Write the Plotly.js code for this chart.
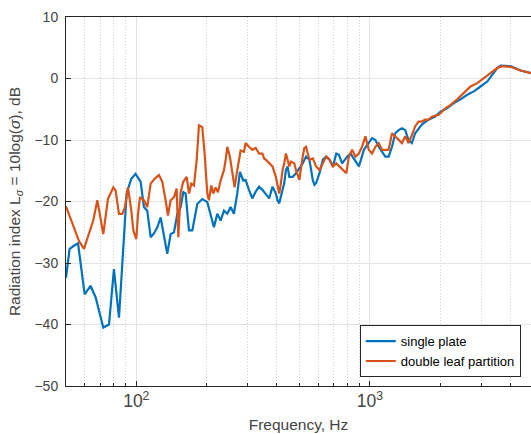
<!DOCTYPE html>
<html><head><meta charset="utf-8">
<script src="https://cdn.plot.ly/plotly-3.0.1.min.js"></script>
<style>html,body{margin:0;padding:0;background:#fff;}#chart{width:531px;height:434px;}</style>
</head><body><div id="chart"></div>
<script>
// single plate
var freqSingle = [50, 51.8, 54.1, 56.3, 60.1, 63.7, 67.0, 72.2, 76.4, 80.2, 84.3, 87.1, 90.9, 95.2, 99.3, 104.4, 107.8, 111.4, 115.2, 119, 123, 127.1, 131.3, 135.7, 140.3, 145, 149.8, 154.8, 158.9, 162.6, 168.1, 173.7, 182.4, 191.7, 201.4, 215, 222.2, 229.6, 237.3, 245.2, 253.4, 261.8, 270.6, 277.8, 287.1,
  293.8, 303.7, 313.9, 324.5, 335.4, 346.7, 358.4, 370.5, 382.9, 395.8, 402.4, 409.2, 416, 430, 437.1, 444.4, 451.9, 467.1, 482.8, 499, 515.8, 533.2, 551.1, 569.7, 579.2, 588.8, 608.6, 629.1, 650.3, 672.2, 694.8, 718.2,
  737, 761, 800.5, 826.8, 897.7, 943, 989, 1022, 1056, 1091, 1127, 1165, 1204, 1244, 1285, 1328, 1372, 1418, 1464, 1513, 1563, 1615, 1669, 1782, 1903,
  2008, 2145, 2289, 2445, 2612, 2788, 2978, 3181, 3342, 3511, 3630, 4004, 4417, 5000];
var levelSingle = [-32.4, -27.7, -27.2, -26.8, -35.1, -33.7, -35.6, -40.5, -40, -31, -38.9, -30.7, -18.7, -16.3, -15.5, -16.8, -20.9, -21.5, -25.8, -25.2, -24.2, -22.6, -25.3, -28.5, -25.3, -25, -22, -20.9, -18.5, -18.7, -24.7, -24.7, -20.4, -19.6, -20.1, -24.2, -22, -23.1, -21.5, -22, -20.9, -22, -18.7, -15.2, -16.6,
  -16.5, -18.1, -19.5, -18.4, -17.6, -18.1, -18.9, -19.5, -17.6, -18.7, -19.8, -20.3, -19.2, -17.0, -14.9, -14.3, -16.0, -16.0, -15.4, -14.6, -13.8, -12.7, -13.2, -16.5, -17.3, -17.0, -15.4, -13.2, -12.7, -13.2, -14.3, -12.2,
  -12.4, -13.8, -12.7, -12.2, -14.3, -11.6, -10.5, -9.7, -10.0, -11.1, -11.9, -12.7, -12.7, -11.1, -8.9, -8.4, -8.1, -8.4, -10.0, -10.5, -8.9, -8.1, -7.5, -6.7, -6.2,
  -5.4, -4.8, -4.0, -3.4, -2.65, -2.1, -1.3, -0.5, 0.6, 1.7, 2.1, 2.0, 1.3, 0.8];

// double leaf partition
var freqDouble = [50, 54.1, 56.8, 59.7, 62.7, 65.4, 68.1, 70.4, 72.2, 75.6, 79.7, 81.5, 84.3, 87.1, 89.4, 92.1, 95.2, 97.1, 100, 101.7, 103.7, 107.8, 111.4, 115.2, 119.8, 125, 129.2, 133.5, 136.6, 140.3, 145, 148.8, 151.3, 154.8, 158.9, 164.3, 168.1, 172, 176.5, 181.3, 185.5, 191.7, 196.1, 201.4, 204.6, 209.4, 213.6, 218.6, 223.6, 229.6, 237.3, 241.2, 245.2, 251.8, 257.6, 263.6, 270.6, 279.7, 289,
  293.8, 303.7, 313.9, 324.5, 335.4, 346.7, 352.5, 358.4, 370.5, 382.9, 395.8, 402.4, 409.2, 416, 423, 430, 437.1, 444.4, 451.9, 459.4, 474.9, 482.8, 499, 515.8, 524.4, 533.2, 542.1, 551.1, 569.7, 588.8, 608.6, 629.1, 650.3, 672.2, 694.8, 718.2, 742.3, 767.3, 793.2,
  813, 840, 868, 897, 926, 957, 989, 1022, 1056, 1091, 1127, 1165, 1204, 1244, 1285, 1328, 1372, 1418, 1464, 1513, 1563, 1615, 1669, 1725, 1782, 1842, 1903,
  1974, 2110, 2216, 2366, 2526, 2698, 2883, 3076, 3289, 3511, 3689, 4004, 4417, 5000];
var levelDouble = [-20.8, -24.2, -26.4, -27.7, -25.3, -23.1, -19.8, -22.6, -25.3, -19.6, -17.7, -18.2, -22, -22, -20.9, -17.7, -21.5, -24.7, -26.1, -22, -19.3, -19.8, -20.9, -17.1, -16.3, -15.7, -16.8, -19.8, -22.3, -19.8, -19.3, -17.9, -25.8, -18.5, -16.8, -16.0, -18.7, -17.1, -17.4, -13.3, -7.6, -7.9, -12.2, -18.7, -19.8, -17.4, -18.7, -17.7, -18.5, -16.6, -14.9, -13.3, -11.1, -12.8, -15.5, -17.7, -14.9, -11.7, -11.9,
  -10.5, -11.1, -11.6, -11.3, -12.2, -12.2, -13.0, -13.2, -13.8, -14.3, -16.0, -17.6, -18.7, -17.0, -14.9, -13.8, -12.2, -13.2, -14.3, -13.5, -13.8, -14.9, -16.5, -12.7, -11.3, -11.1, -12.2, -13.2, -13.0, -14.3, -14.9, -13.8, -12.7, -13.2, -14.3, -13.8, -14.3, -14.9, -15.4,
  -12.7, -11.6, -12.7, -12.2, -11.1, -9.4, -11.6, -12.2, -11.1, -10.5, -11.6, -11.6, -11.6, -8.9, -9.4, -10.0, -10.5, -9.4, -10.5, -9.2, -7.8, -7.0, -7.0, -6.7, -6.7, -6.2, -6.0,
  -5.9, -4.8, -4.3, -3.4, -2.4, -1.3, -0.75, 0.07, 0.9, 1.7, 2.0, 1.9, 1.3, 0.8];

var seriesNames = ['single plate', 'double leaf partition'];
var seriesColors = ['#0072BD', '#D95319'];

var axisColor = '#262626';
var fontFam = 'Liberation Sans, Arial, Helvetica, sans-serif';

var traces = [
  {x: freqSingle, y: levelSingle, type: 'scatter', mode: 'lines', name: seriesNames[0],
   line: {color: seriesColors[0], width: 2.2}},
  {x: freqDouble, y: levelDouble, type: 'scatter', mode: 'lines', name: seriesNames[1],
   line: {color: seriesColors[1], width: 2.2}}
];

var layout = {
  width: 531, height: 434,
  margin: {l: 66, r: 0, t: 17, b: 48},
  paper_bgcolor: '#fff', plot_bgcolor: '#fff',
  font: {family: fontFam, color: axisColor, size: 14},
  showlegend: true,
  legend: {x: 0.978, y: 0.024, xanchor: 'right', yanchor: 'bottom',
    bgcolor: '#fff', bordercolor: axisColor, borderwidth: 1,
    font: {family: fontFam, size: 13, color: '#000'}, tracegroupgap: 0},
  xaxis: {
    type: 'log', range: [Math.log10(50), 3.69],
    dtick: 1, exponentformat: 'power',
    showline: true, mirror: true, linecolor: axisColor, linewidth: 1,
    ticks: 'inside', ticklen: 5, tickcolor: axisColor,
    showgrid: true, gridcolor: '#e3e3e3', gridwidth: 1,
    minor: {dtick: 'D1', showgrid: true, gridcolor: '#cfcfcf', griddash: '1px,2px', gridwidth: 1, ticks: 'inside', ticklen: 3, tickcolor: axisColor},
    zeroline: false,
    tickfont: {size: 14, color: '#444'},
    title: {text: 'Frequency, Hz', font: {size: 15.5, color: '#444'}, standoff: 8},
    automargin: false
  },
  yaxis: {
    range: [-50, 10], dtick: 10,
    showline: true, mirror: true, linecolor: axisColor, linewidth: 1,
    ticks: 'inside', ticklen: 5, tickcolor: axisColor,
    showgrid: true, gridcolor: '#e3e3e3', gridwidth: 1,
    zeroline: false,
    tickfont: {size: 14, color: '#444'},
    ticklabelstandoff: 4,
    title: {text: 'Radiation index L<sub><i>σ</i></sub> = 10log(<i>σ</i>), dB', font: {size: 15.5, color: '#444'}, standoff: 10},
    automargin: false
  }
};

Plotly.newPlot('chart', traces, layout, {displayModeBar: false, staticPlot: true});
</script>
</body></html>
